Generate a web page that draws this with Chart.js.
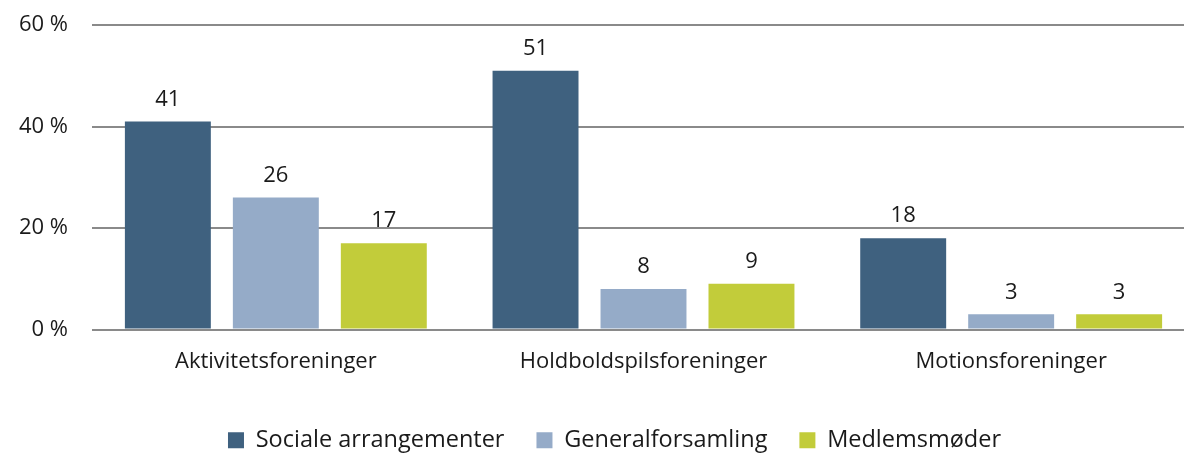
<!DOCTYPE html>
<html>
<head>
<meta charset="utf-8">
<script src="https://cdn.jsdelivr.net/npm/chart.js@4/dist/chart.umd.min.js"></script>
<style>
  body { margin: 0; overflow: hidden; background: #fff; }
  .wrap { position: relative; width: 1196px; height: 462px; }
</style>
</head>
<body>
<div class="wrap"><canvas id="chart"></canvas></div>
<script>
// Foreningstyper og andel (%) der holder hver type arrangement
const categories = ["Aktivitetsforeninger", "Holdboldspilsforeninger", "Motionsforeninger"];
const sociale = [41, 51, 18];
const generalforsamling = [26, 8, 3];
const medlemsmoeder = [17, 9, 3];
const yTicks = [0, 20, 40, 60];

const FONT = "'Open Sans', sans-serif";
const TEXT = "#1a1a1a";

// skriver værdien over hver søjle
const barValues = {
  id: "barValues",
  afterDatasetsDraw(chart) {
    const ctx = chart.ctx;
    ctx.save();
    ctx.font = "22px " + FONT;
    ctx.fillStyle = TEXT;
    ctx.textAlign = "center";
    ctx.textBaseline = "middle";
    chart.data.datasets.forEach((ds, i) => {
      chart.getDatasetMeta(i).data.forEach((bar, j) => {
        ctx.fillText(ds.data[j], bar.x, bar.y - 22);
      });
    });
    ctx.restore();
  },
};

// flytter signaturforklaringen lidt mod højre
const legendShift = {
  id: "legendShift",
  afterLayout(chart) {
    chart.legend.left += 34;
  },
};

new Chart(document.getElementById("chart"), {
  type: "bar",
  data: {
    labels: categories,
    datasets: [
      { label: "Sociale arrangementer", data: sociale, backgroundColor: "#3f617f" },
      { label: "Generalforsamling", data: generalforsamling, backgroundColor: "#95abc8" },
      { label: "Medlemsmøder", data: medlemsmoeder, backgroundColor: "#c2cc3a" },
    ],
  },
  options: {
    responsive: true,
    maintainAspectRatio: false,
    animation: false,
    categoryPercentage: 0.881,
    barPercentage: 0.796,
    layout: { padding: { left: 0, right: 1, top: 25, bottom: 0 } },
    scales: {
      x: {
        grid: { display: false, drawTicks: false },
        border: { display: false },
        ticks: { color: TEXT, font: { family: FONT, size: 22 }, padding: 19, maxRotation: 0 },
        afterFit: (scale) => { scale.height = 67; },
      },
      y: {
        min: 0,
        max: 60,
        afterBuildTicks: (scale) => { scale.ticks = yTicks.map((v) => ({ value: v })); },
        grid: { color: "#8a8a8a", lineWidth: 2, drawTicks: false },
        border: { display: false },
        ticks: {
          color: TEXT,
          font: { family: FONT, size: 22 },
          padding: 24,
          callback: (v) => v + " %",
        },
        afterFit: (scale) => {
          scale.width = 92;
          // tick-padding skal ikke skubbe plotområdet ned
          scale.paddingTop = 12;
          scale.paddingBottom = 12;
        },
      },
    },
    plugins: {
      legend: {
        position: "bottom",
        labels: {
          color: TEXT,
          font: { family: FONT, size: 23.5 },
          boxWidth: 16,
          boxHeight: 16,
          padding: 32,
        },
      },
      tooltip: { enabled: false },
    },
  },
  plugins: [barValues, legendShift],
});
</script>
</body>
</html>
